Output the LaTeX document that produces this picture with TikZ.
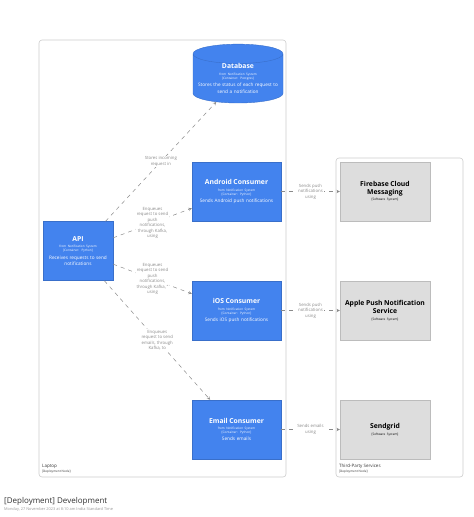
\documentclass[tikz,border=0pt]{standalone}
\usepackage{fontspec}
\setmainfont{Open Sans}
\usetikzlibrary{positioning,shapes.geometric}

\definecolor{cblue}{HTML}{4383EE}
\definecolor{sysgray}{HTML}{DDDDDD}
\definecolor{boxgray}{HTML}{CCCCCC}
\definecolor{relgray}{HTML}{8A8A8A}

\newcommand{\boxfont}{\fontsize{4.7}{6.6}\selectfont\hyphenpenalty=10000\relax}
\newcommand{\ttl}[1]{{\fontsize{6.8}{7.6}\selectfont\bfseries #1}}
\newcommand{\meta}[1]{{\fontsize{3.1}{3.6}\selectfont #1}}
\newcommand{\desc}[1]{{\fontsize{4.7}{6.6}\selectfont #1}}

\begin{document}
\begin{tikzpicture}[x=1pt,y=-1pt,>=stealth,
    boxtext/.style={align=center,inner sep=0pt,font=\boxfont},
    container/.style={boxtext,rectangle,fill=cblue,draw=cblue!85!black,line width=0.4pt,text=white,
        minimum width=89pt,minimum height=59pt,text width=84pt},
    extsystem/.style={boxtext,rectangle,fill=sysgray,draw=sysgray!85!black,line width=0.4pt,text=black,
        minimum width=90pt,minimum height=59pt,text width=84pt},
    boundary/.style={draw=boxgray,rounded corners=3pt,line width=0.6pt},
    relation/.style={->,dashed,dash pattern=on 4pt off 4pt,draw=relgray,line width=0.5pt},
    rellabel/.style={fill=white,text=relgray,align=center,inner sep=1pt,
        font=\fontsize{4.3}{5.4}\selectfont},
    node distance=119pt]

    \useasboundingbox (0,0) rectangle (474,517);

    % deployment nodes
    \draw[boundary] (39,40) rectangle (286,477);
    \draw[boundary] (336,158) rectangle (463,477);
    \node[anchor=north west,align=left,inner sep=0pt,text=black!80,font=\fontsize{4.5}{5.2}\selectfont]
        (laptop) at (42,464) {Laptop\\\meta{[Deployment Node]}};
    \node[anchor=north west,align=left,inner sep=0pt,text=black!80,font=\fontsize{4.5}{5.2}\selectfont]
        (thirdparty) at (339,464) {Third-Party Services\\\meta{[Deployment Node]}};

    % containers
    \node[boxtext,cylinder,shape border rotate=90,aspect=0.22,fill=cblue,draw=cblue!85!black,line width=0.4pt,
        text=white,text width=88pt,minimum height=57pt,minimum width=90pt]
        (database) at (238,78.5)
        {\ttl{Database}\\\meta{from Notification System}\\[-2.6pt]\meta{{[Container: Postgres]}}\\[0.6pt]
         \desc{Stores the status of each request to}\\\desc{send a notification}};

    \node[container,minimum width=70pt,text width=66pt] (api) at (78,251)
        {\ttl{API}\\\meta{from Notification System}\\[-2.6pt]\meta{{[Container: Python]}}\\[0.6pt]
         \desc{Receives requests to send}\\\desc{notifications}};

    \node[container] (android) at (236.5,191.5)
        {\ttl{Android Consumer}\\\meta{from Notification System}\\[-2.6pt]\meta{{[Container: Python]}}\\[0.6pt]
         \desc{Sends Android push notifications}};
    \node[container] (ios) [below of = android]
        {\ttl{iOS Consumer}\\\meta{from Notification System}\\[-2.6pt]\meta{{[Container: Python]}}\\[0.6pt]
         \desc{Sends iOS push notifications}};
    \node[container] (email) [below of = ios]
        {\ttl{Email Consumer}\\\meta{from Notification System}\\[-2.6pt]\meta{{[Container: Python]}}\\[0.6pt]
         \desc{Sends emails}};

    % software systems
    \node[extsystem] (firebase) [right of = android, node distance=148.5pt]
        {\ttl{Firebase Cloud}\\[0.8pt]\ttl{Messaging}\\\meta{{[Software System]}}};
    \node[extsystem] (apns) [right of = ios, node distance=148.5pt]
        {\ttl{Apple Push Notification}\\[0.8pt]\ttl{Service}\\\meta{{[Software System]}}};
    \node[extsystem] (sendgrid) [right of = email, node distance=148.5pt]
        {\ttl{Sendgrid}\\\meta{{[Software System]}}};

    % relationships
    \path
        (api) edge[relation] node[rellabel]{Stores incoming\\request in} (database)
        (api) edge[relation] node[rellabel]{Enqueues\\request to send\\push\\notifications,\\through Kafka,\\using} (android)
        (api) edge[relation] node[rellabel]{Enqueues\\request to send\\push\\notifications,\\through Kafka, "\\using} (ios)
        (api) edge[relation] node[rellabel]{Enqueues\\request to send\\emails, through\\Kafka, to} (email)
    ;

    \foreach \src/\dst/\txt in {android/firebase/{Sends push\\notifications\\using},
                                ios/apns/{Sends push\\notifications\\using},
                                email/sendgrid/{Sends emails\\using}}{
        \path (\src) edge[relation] node[rellabel]{\txt} (\dst);
    }

    % title
    \node[anchor=west,inner sep=0pt,text=black!80,font=\fontsize{8}{9.6}\selectfont] (title) at (4,501)
        {[Deployment] Development};
    \node[anchor=west,inner sep=0pt,text=black!40,font=\fontsize{3.9}{4.7}\selectfont] (stamp) at (4,509.5)
        {Monday, 27 November 2023 at 8:10 am India Standard Time};

\end{tikzpicture}
\end{document}
